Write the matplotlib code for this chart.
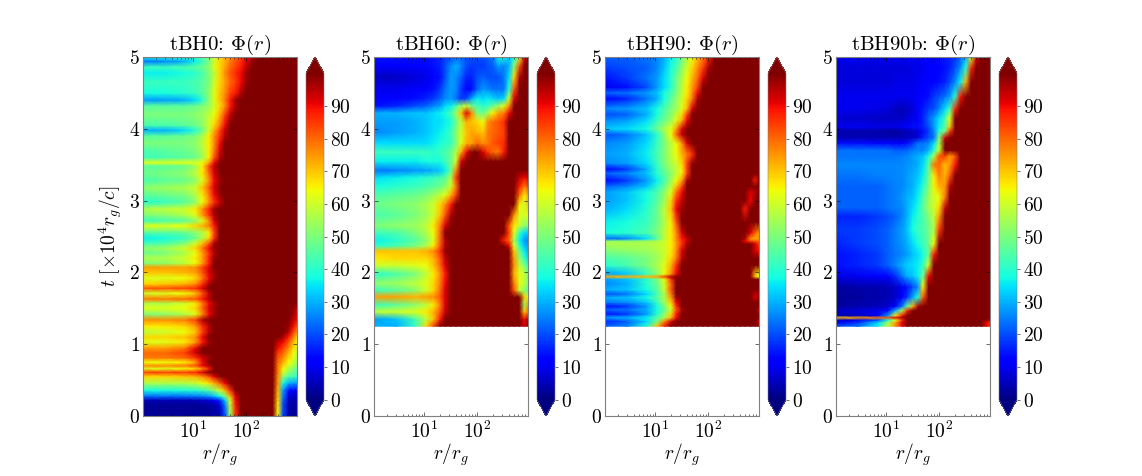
import numpy as np
import matplotlib
matplotlib.use('Agg')
import matplotlib.pyplot as plt

plt.rcParams['font.family'] = ['cmr10', 'DejaVu Serif']
plt.rcParams['mathtext.fontset'] = 'cm'
plt.rcParams['axes.formatter.use_mathtext'] = True
plt.rcParams['axes.unicode_minus'] = False

titles = ['tBH0', 'tBH60', 'tBH90', 'tBH90b']
cbar_ticks = [0, 10, 20, 30, 40, 50, 60, 70, 80, 90]

# radius columns of the tables below
r_cols = [1.14, 3, 7, 11, 15, 20, 25, 32, 40, 50, 63, 80, 100, 130, 160, 200,
          250, 320, 400, 500, 630, 780, 912]

# each row: t, then Phi at r_cols (short rows stay at 100 out to the edge)
rows_0 = [
    [0.00, 2, 2, 2, 2, 2, 2, 3, 5, 20, 52, 85] + [100] * 7 + [65, 20, 4, 3, 3],
    [0.15, 2, 2, 2, 2, 2, 3, 4, 7, 24, 58, 88] + [100] * 7 + [66, 20, 4, 3, 3],
    [0.22, 5, 5, 5, 5, 6, 8, 10, 16, 32, 62, 90] + [100] * 7 + [68, 22, 6, 4, 4],
    [0.28, 24, 24, 24, 25, 26, 28, 32, 38, 50, 72, 92] + [100] * 7 + [70, 25, 8, 6, 6],
    [0.36, 38, 38, 39, 40, 42, 46, 52, 60, 72, 86, 100] + [100] * 7 + [72, 28, 14, 12, 12],
    [0.46, 56, 56, 57, 59, 63, 67, 73, 81, 91, 100, 100] + [100] * 7 + [75, 38, 30, 28, 28],
    [0.55, 68, 68, 70, 72, 76, 83, 91, 100, 100, 100, 100] + [100] * 7 + [76, 52, 45, 42, 40],
    [0.61, 84, 84, 85, 87, 92, 100, 100, 100, 100, 100, 100] + [100] * 7 + [78, 60, 52, 48, 45],
    [0.66, 62, 62, 64, 68, 76, 88, 100, 100, 100, 100, 100] + [100] * 7 + [78, 64, 56, 50, 46],
    [0.70, 76, 76, 78, 82, 90, 96, 100, 100, 100, 100, 100] + [100] * 7 + [78, 68, 60, 56, 50],
    [0.75, 64, 64, 66, 74, 90, 100, 100, 100, 100, 100, 100] + [100] * 7 + [80, 72, 64, 60, 52],
    [0.81, 78, 78, 80, 85, 92, 97, 100, 100, 100, 100, 100] + [100] * 7 + [82, 76, 68, 62, 55],
    [0.88, 80, 80, 84, 93, 100, 100, 100, 100, 100, 100, 100] + [100] * 7 + [85, 80, 72, 64, 58],
    [0.95, 74, 74, 78, 90, 100, 100, 100, 100, 100, 100, 100] + [100] * 7 + [90, 84, 76, 68, 60],
    [1.03, 62, 62, 66, 74, 88, 97, 100, 100, 100, 100, 100] + [100] * 7 + [94, 90, 82, 72, 64],
    [1.10, 68, 68, 70, 76, 90, 100, 100, 100, 100, 100, 100] + [100] * 8 + [96, 88, 78, 68],
    [1.17, 58, 60, 64, 70, 84, 95, 100, 100, 100, 100, 100] + [100] * 9 + [95, 84, 76],
    [1.25, 66, 66, 68, 74, 86, 95, 100, 100, 100, 100, 100] + [100] * 9 + [98, 90, 82],
    [1.34, 76, 76, 78, 84, 96, 100, 100, 100, 100, 100, 100] + [100] * 10 + [94, 90],
    [1.42, 50, 52, 56, 62, 76, 90, 97, 100, 100, 100, 100] + [100] * 10 + [97, 92],
    [1.50, 62, 62, 64, 68, 80, 92, 97, 100, 100, 100, 100] + [100] * 10 + [98, 94],
    [1.57, 56, 56, 60, 66, 78, 90, 96, 100],
    [1.63, 78, 78, 80, 82, 88, 95, 100],
    [1.71, 60, 62, 64, 70, 82, 94, 100],
    [1.78, 82, 82, 84, 86, 92, 100],
    [1.84, 68, 70, 72, 76, 86, 96, 100],
    [1.92, 62, 62, 64, 68, 78, 90, 97, 100],
    [2.00, 70, 70, 72, 74, 82, 92, 97, 100],
    [2.07, 74, 74, 74, 76, 84, 92, 100],
    [2.13, 50, 52, 58, 64, 74, 88, 100],
    [2.20, 56, 56, 60, 66, 74, 88, 98, 100],
    [2.27, 48, 50, 56, 64, 74, 86, 96, 100],
    [2.34, 52, 54, 60, 68, 78, 90, 98, 100],
    [2.41, 42, 44, 50, 60, 70, 82, 96, 100],
    [2.48, 36, 38, 42, 48, 56, 68, 86, 100],
    [2.56, 46, 46, 48, 52, 56, 66, 84, 100],
    [2.65, 62, 62, 64, 68, 72, 78, 88, 100],
    [2.72, 42, 44, 46, 52, 62, 76, 92, 100],
    [2.80, 50, 52, 56, 62, 74, 86, 96, 100],
    [2.88, 56, 58, 60, 66, 76, 88, 98, 100],
    [2.98, 40, 42, 46, 52, 64, 76, 86, 94, 100],
    [3.08, 46, 48, 50, 56, 66, 78, 90, 97, 100],
    [3.18, 52, 54, 56, 60, 70, 82, 92, 100],
    [3.28, 44, 46, 48, 52, 62, 76, 90, 97, 100],
    [3.38, 48, 50, 52, 58, 66, 80, 92, 100],
    [3.48, 46, 46, 48, 54, 66, 84, 94, 100],
    [3.53, 62, 62, 62, 62, 64, 74, 90, 100],
    [3.60, 42, 44, 46, 48, 54, 66, 82, 95, 100],
    [3.70, 44, 46, 48, 50, 56, 66, 78, 92, 100],
    [3.80, 50, 50, 50, 52, 58, 66, 76, 90, 100],
    [3.90, 46, 46, 48, 50, 56, 66, 76, 86, 96, 100],
    [3.98, 30, 30, 34, 40, 48, 60, 72, 84, 94, 100],
    [4.05, 44, 44, 46, 48, 52, 60, 68, 78, 90, 100],
    [4.20, 50, 50, 50, 52, 54, 58, 64, 72, 84, 94, 100],
    [4.32, 46, 46, 46, 48, 50, 54, 60, 68, 76, 88, 96, 100],
    [4.40, 28, 28, 30, 34, 40, 52, 62, 70, 78, 88, 98, 100],
    [4.50, 38, 38, 40, 42, 46, 52, 62, 70, 76, 84, 88, 96, 100],
    [4.65, 42, 42, 42, 44, 46, 50, 60, 68, 74, 80, 84, 90, 98, 100],
    [4.78, 36, 36, 38, 40, 44, 50, 58, 68, 76, 82, 86, 90, 97, 100],
    [4.86, 42, 42, 44, 46, 48, 52, 62, 68, 74, 80, 84, 88, 94, 100],
    [4.94, 24, 26, 30, 36, 42, 50, 60, 68, 72, 78, 82, 86, 92, 98, 100],
    [5.00, 36, 38, 40, 42, 46, 52, 62, 68, 72, 76, 80, 84, 90, 96, 100],
]

rows_60 = [
    [1.25, 30, 30, 42, 68, 84, 100, 100, 100] + [100] * 13 + [92, 100],
    [1.35, 28, 32, 44, 58, 70, 88, 100, 100] + [100] * 13 + [90, 96],
    [1.45, 58, 60, 62, 66, 72, 82, 94, 100] + [100] * 13 + [70, 80],
    [1.55, 42, 46, 52, 58, 66, 78, 92, 100] + [100] * 13 + [52, 75],
    [1.66, 74, 74, 72, 74, 76, 82, 92, 100] + [100] * 13 + [70, 60],
    [1.75, 42, 46, 52, 60, 68, 80, 92, 100] + [100] * 11 + [82, 58, 52, 45],
    [1.85, 52, 54, 58, 62, 68, 78, 90, 100] + [100] * 11 + [78, 62, 58, 50],
    [1.98, 40, 44, 50, 58, 66, 76, 88, 100] + [100] * 11 + [72, 62, 60, 48],
    [2.10, 60, 60, 62, 64, 70, 80, 92, 100] + [100] * 11 + [76, 58, 50, 40],
    [2.20, 66, 68, 68, 68, 72, 82, 94, 100] + [100] * 11 + [74, 52, 42, 34],
    [2.30, 70, 70, 70, 72, 76, 86, 98, 100] + [100] * 11 + [70, 48, 36, 30],
    [2.37, 40, 44, 50, 56, 66, 82, 96, 100] + [100] * 10 + [92, 62, 40, 32, 28],
    [2.45, 36, 40, 46, 52, 62, 80, 96, 100] + [100] * 9 + [88, 80, 56, 36, 28, 26],
    [2.55, 42, 44, 50, 56, 64, 80, 100, 100] + [100] * 10 + [84, 62, 40, 34, 32],
    [2.65, 50, 52, 54, 58, 66, 78, 92, 100] + [100] * 10 + [82, 66, 58, 52, 50],
    [2.80, 44, 46, 50, 54, 60, 70, 82, 96] + [100] * 11 + [76, 62, 60, 64],
    [2.95, 48, 50, 52, 56, 60, 68, 76, 88, 100] + [100] * 11 + [66, 60, 70],
    [3.08, 44, 46, 48, 50, 54, 58, 62, 72, 84, 100] + [100] * 10 + [80, 66, 74],
    [3.20, 38, 40, 42, 44, 46, 48, 52, 60, 78, 100] + [100] * 10 + [88, 78, 84],
    [3.32, 34, 36, 38, 40, 42, 44, 46, 56, 84, 100] + [100] * 10 + [94, 90, 92],
    [3.42, 24, 25, 27, 28, 30, 32, 36, 48, 76, 100] + [100] * 13,
    [3.55, 36, 36, 36, 38, 38, 38, 42, 48, 60, 92, 100] + [100] * 12,
    [3.68, 42, 42, 42, 42, 40, 42, 44, 48, 56, 72, 90, 100, 100, 92, 84, 80, 78, 88] + [100] * 5,
    [3.80, 34, 34, 34, 34, 36, 38, 40, 42, 50, 62, 72, 74, 80, 76, 78, 82, 84, 86, 100] + [100] * 4,
    [3.95, 26, 28, 30, 32, 34, 36, 38, 42, 52, 60, 70, 74, 72, 70, 78, 80, 82, 84, 100] + [100] * 4,
    [4.10, 28, 28, 30, 32, 34, 34, 36, 38, 48, 58, 72, 70, 68, 64, 76, 80, 82, 86, 100] + [100] * 4,
    [4.22, 30, 30, 32, 32, 34, 36, 38, 44, 54, 70, 92, 76, 50, 48, 56, 66, 74, 78, 90, 100, 100, 100, 100],
    [4.32, 14, 16, 20, 22, 26, 28, 34, 36, 44, 54, 60, 48, 44, 40, 42, 48, 54, 62, 76, 100, 100, 100, 100],
    [4.42, 12, 12, 14, 16, 18, 22, 26, 28, 24, 18, 20, 30, 36, 34, 36, 34, 32, 34, 60, 92, 100, 100, 100],
    [4.55, 10, 10, 11, 12, 14, 18, 24, 28, 26, 18, 12, 14, 22, 28, 26, 24, 24, 24, 40, 82, 100, 100, 100],
    [4.72, 6, 6, 8, 9, 11, 14, 20, 28, 26, 22, 16, 16, 20, 22, 20, 20, 20, 24, 34, 68, 96, 100, 100],
    [4.88, 12, 12, 12, 13, 14, 16, 20, 26, 30, 26, 20, 18, 18, 18, 20, 22, 28, 26, 30, 50, 82, 100, 100],
    [5.00, 14, 14, 14, 14, 15, 16, 18, 20, 22, 22, 20, 20, 20, 20, 22, 24, 36, 38, 32, 38, 62, 92, 100],
]

rows_90 = [
    [1.25, 22, 26, 40, 70, 88, 100],
    [1.32, 16, 22, 34, 50, 76, 92, 100] + [100] * 15 + [92],
    [1.37, 28, 30, 36, 46, 56, 72, 90, 100],
    [1.42, 14, 18, 28, 40, 52, 68, 88, 100],
    [1.48, 22, 24, 30, 38, 48, 60, 82, 96, 100] + [100] * 13 + [94],
    [1.53, 14, 18, 28, 38, 50, 64, 86, 100],
    [1.58, 24, 26, 32, 42, 54, 68, 90, 100],
    [1.65, 30, 32, 38, 46, 56, 74, 96, 100] + [100] * 13 + [92, 100],
    [1.70, 20, 24, 34, 44, 56, 78, 100] + [100] * 14 + [94, 96],
    [1.76, 30, 32, 38, 46, 60, 82, 100],
    [1.84, 26, 30, 40, 48, 60, 80, 100],
    [1.91, 28, 32, 40, 50, 64, 86, 100],
    [1.94, 72, 72, 72, 74, 84, 96, 100] + [100] * 14 + [72, 60],
    [1.98, 28, 32, 42, 52, 64, 76, 90, 100] + [100] * 13 + [72, 62],
    [2.10, 40, 44, 50, 56, 62, 72, 86, 100],
    [2.20, 44, 46, 50, 54, 60, 68, 78, 94, 100],
    [2.30, 50, 52, 54, 56, 60, 66, 76, 92, 100] + [100] * 12 + [92, 90],
    [2.40, 56, 56, 56, 58, 60, 66, 74, 86, 96, 100] + [100] * 11 + [92, 84],
    [2.44, 52, 52, 54, 56, 60, 66, 76, 86, 94, 100] + [100] * 9 + [90, 84, 82, 80],
    [2.47, 22, 26, 34, 46, 58, 66, 76, 88, 94, 100] + [100] * 9 + [96, 76, 72, 76],
    [2.55, 38, 40, 44, 50, 58, 66, 76, 92, 100] + [100] * 10 + [100, 92, 80, 74],
    [2.70, 36, 38, 42, 48, 56, 66, 82, 100],
    [2.88, 30, 34, 40, 48, 58, 70, 90, 98, 100] + [100] * 10 + [88, 100],
    [3.00, 28, 32, 38, 46, 54, 68, 86, 94, 100] + [100] * 11 + [90, 100],
    [3.12, 28, 32, 38, 44, 52, 62, 78, 90, 100] + [100] * 11 + [92, 96],
    [3.20, 22, 26, 32, 40, 48, 58, 70, 84, 100],
    [3.28, 12, 18, 28, 36, 44, 54, 64, 74, 96, 100] + [100] * 11 + [88],
    [3.38, 22, 26, 32, 40, 46, 52, 58, 66, 84, 100],
    [3.44, 12, 18, 30, 40, 48, 54, 58, 66, 84, 100],
    [3.52, 26, 28, 34, 42, 50, 56, 60, 68, 84, 98, 100],
    [3.65, 28, 30, 36, 44, 50, 58, 64, 72, 78, 86, 100],
    [3.80, 26, 28, 34, 42, 50, 58, 64, 76, 92, 100],
    [3.92, 20, 24, 32, 40, 52, 64, 80, 94, 100],
    [4.00, 32, 34, 38, 48, 56, 62, 74, 92, 100],
    [4.12, 26, 28, 34, 42, 48, 54, 62, 72, 90, 100],
    [4.20, 20, 22, 30, 38, 46, 52, 58, 68, 84, 100],
    [4.28, 26, 28, 32, 38, 44, 50, 54, 62, 72, 92, 100],
    [4.42, 12, 16, 24, 30, 38, 46, 52, 60, 68, 78, 96, 100],
    [4.50, 22, 24, 28, 32, 38, 44, 50, 58, 66, 76, 90, 100],
    [4.58, 10, 14, 20, 28, 34, 40, 48, 58, 66, 74, 84, 100],
    [4.70, 14, 18, 24, 28, 34, 40, 48, 56, 64, 72, 80, 92, 100],
    [4.85, 18, 20, 22, 26, 32, 38, 44, 52, 60, 68, 76, 84, 96, 100],
    [5.00, 22, 22, 24, 26, 30, 36, 40, 48, 56, 64, 72, 78, 86, 100],
]

rows_90b = [
    [1.25, 20, 24, 36, 58, 76, 90, 100] + [100] * 14 + [92, 88],
    [1.30, 10, 18, 34, 56, 74, 92, 100] + [100] * 14 + [90, 86],
    [1.34, 6, 10, 20, 38, 64, 86, 100] + [100] * 15 + [94],
    [1.37, 70, 74, 78, 82, 92, 96, 100],
    [1.40, 4, 6, 10, 28, 66, 88, 100],
    [1.47, 6, 8, 10, 14, 30, 56, 86, 100],
    [1.53, 3, 4, 5, 7, 12, 24, 46, 72, 96, 100],
    [1.65, 2, 3, 4, 5, 7, 11, 18, 30, 40, 82, 100],
    [1.80, 3, 4, 4, 5, 7, 10, 14, 20, 26, 66, 100],
    [1.95, 9, 10, 11, 13, 17, 24, 30, 32, 36, 48, 90, 100],
    [2.10, 14, 16, 18, 22, 26, 30, 33, 34, 36, 42, 60, 100],
    [2.25, 14, 16, 18, 22, 24, 26, 28, 32, 34, 38, 48, 88, 100],
    [2.40, 16, 18, 20, 22, 25, 27, 30, 34, 38, 42, 48, 64, 100],
    [2.60, 18, 18, 20, 22, 25, 28, 32, 38, 42, 44, 48, 56, 84, 100],
    [2.78, 16, 16, 18, 20, 22, 26, 30, 36, 40, 44, 50, 58, 74, 100],
    [2.90, 22, 22, 22, 24, 25, 26, 30, 34, 38, 46, 54, 60, 68, 94, 100],
    [3.05, 22, 22, 22, 24, 25, 27, 30, 32, 36, 44, 54, 60, 64, 78, 100],
    [3.20, 22, 22, 22, 24, 25, 26, 28, 30, 34, 40, 50, 65, 72, 75, 95, 100],
    [3.35, 24, 24, 25, 25, 26, 26, 28, 30, 32, 36, 48, 66, 78, 72, 82, 100],
    [3.50, 26, 26, 26, 26, 26, 26, 27, 28, 30, 34, 46, 78, 80, 70, 75, 88, 100],
    [3.62, 24, 24, 24, 24, 24, 25, 26, 28, 30, 32, 38, 56, 82, 84, 74, 82, 100],
    [3.70, 24, 24, 24, 24, 22, 22, 23, 25, 26, 26, 30, 40, 60, 100, 100, 100, 100],
    [3.80, 14, 14, 13, 13, 12, 12, 14, 18, 24, 24, 26, 34, 56, 100, 100, 100, 100],
    [3.88, 5, 5, 5, 5, 5, 5, 6, 6, 8, 16, 20, 24, 50, 92, 100, 100, 100],
    [3.97, 4, 4, 4, 3, 3, 4, 5, 6, 8, 14, 18, 26, 40, 50, 84, 100],
    [4.03, 10, 10, 9, 9, 9, 10, 12, 14, 14, 16, 20, 28, 36, 46, 70, 100],
    [4.15, 7, 7, 6, 6, 6, 6, 8, 9, 12, 16, 22, 28, 34, 44, 62, 100],
    [4.28, 10, 10, 9, 8, 6, 5, 6, 8, 11, 15, 18, 20, 26, 34, 44, 86, 100],
    [4.45, 10, 10, 10, 10, 10, 10, 10, 10, 11, 12, 14, 18, 20, 24, 28, 40, 88, 100],
    [4.65, 8, 8, 8, 8, 9, 9, 9, 9, 10, 11, 12, 12, 14, 16, 20, 26, 36, 72, 100],
    [4.85, 8, 8, 8, 8, 8, 8, 8, 9, 9, 10, 11, 12, 12, 14, 16, 20, 26, 40, 86, 100],
    [5.00, 10, 10, 10, 10, 10, 10, 10, 10, 10, 12, 12, 12, 14, 15, 16, 18, 22, 30, 58, 92, 100],
]

tables = [rows_0, rows_60, rows_90, rows_90b]

W, H = 1142, 476
fig = plt.figure(figsize=(W / 100, H / 100), dpi=100)

lefts = [143, 374, 605, 836]
for k in range(4):
    x0 = lefts[k]
    ax = fig.add_axes([x0 / W, 1 - 416 / H, 154 / W, 359 / H])

    t = [row[0] for row in tables[k]]
    phi = np.array([row[1:] + [100] * (len(r_cols) - len(row) + 1) for row in tables[k]], dtype=float)
    R, T = np.meshgrid(r_cols, t)
    m = ax.pcolormesh(R, T, phi, cmap='jet', vmin=0, vmax=100, shading='gouraud', rasterized=True)

    ax.set_xscale('log')
    ax.set_xlim(1.14, 912)
    ax.set_ylim(0, 5)
    ax.set_yticks([0, 1, 2, 3, 4, 5])
    ax.set_xticks([10, 100])
    ax.tick_params(which='both', direction='in', top=True, right=True, width=0.4, labelsize=14, pad=2)
    ax.tick_params(axis='x', pad=3)
    ax.tick_params(which='major', length=3)
    ax.tick_params(which='minor', length=1.5)
    for s in ax.spines.values():
        s.set_linewidth(0.8)
        s.set_color('#808080')
    ax.set_title(titles[k] + r': $\Phi(r)$', fontsize=15, pad=4)
    ax.set_xlabel(r'$r/r_g$', fontsize=14, labelpad=0)
    if k == 0:
        ax.set_ylabel(r'$t\ [\times 10^4 r_g/c]$', fontsize=14, labelpad=4)

    cax = fig.add_axes([(x0 + 163) / W, 1 - 416 / H, 18 / W, 359 / H])
    cb = fig.colorbar(m, cax=cax, extend='both', ticks=cbar_ticks)
    cb.ax.tick_params(labelsize=14, length=2, width=0.4, pad=2)
    cb.outline.set_linewidth(0.4)
    cb.outline.set_edgecolor('#808080')

fig.savefig('out.png', dpi=100)
